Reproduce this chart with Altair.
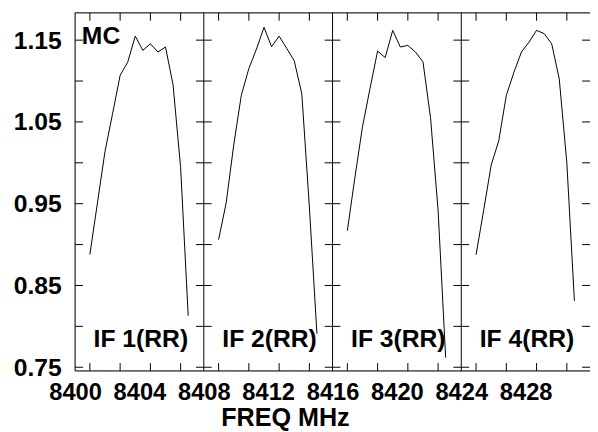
import altair as alt
import pandas as pd

# ---- data ----
IF_NAMES = ["IF 1(RR)", "IF 2(RR)", "IF 3(RR)", "IF 4(RR)"]
IF_START = [8400, 8408, 8416, 8424]          # MHz, start of each IF panel
CHAN_OFFSETS = [0.92, 1.39, 1.86, 2.33, 2.80, 3.27, 3.74,
                4.21, 4.68, 5.15, 5.62, 6.09, 6.56, 7.03]  # MHz within panel
IF1 = [0.888, 0.951, 1.014, 1.060, 1.107, 1.123, 1.155, 1.1375, 1.1456, 1.1355, 1.1416, 1.0953, 0.994, 0.813]
IF2 = [0.906, 0.951, 1.022, 1.0825, 1.1154, 1.1389, 1.1657, 1.142, 1.1548, 1.140, 1.1247, 1.0845, 0.946, 0.791]
IF3 = [0.917, 0.982, 1.044, 1.091, 1.1367, 1.1287, 1.162, 1.1416, 1.1436, 1.1355, 1.1235, 1.0551, 0.9418, 0.7617]
IF4 = [0.8875, 0.9418, 0.9972, 1.027, 1.0825, 1.1106, 1.1355, 1.1476, 1.162, 1.158, 1.1456, 1.1026, 1.000, 0.8312]
X_LABELS = [8400, 8404, 8408, 8412, 8416, 8420, 8424, 8428]
Y_LABELS = [0.75, 0.85, 0.95, 1.05, 1.15]
Y_TICKS = [0.75, 0.80, 0.85, 0.90, 0.95, 1.00, 1.05, 1.10, 1.15]
TICK_CHANNELS = [0, 4, 8, 12]

X_DOM = [8400, 8432]
Y_DOM = [0.7455, 1.1834]
FONT = "Liberation Sans"

rows = []
for name, start, vals in zip(IF_NAMES, IF_START, [IF1, IF2, IF3, IF4]):
    for off, v in zip(CHAN_OFFSETS, vals):
        rows.append({"IF": name, "freq": start + off, "amp": v})
df = pd.DataFrame(rows)

xs = alt.Scale(domain=X_DOM, nice=False, zero=False)
ys = alt.Scale(domain=Y_DOM, nice=False, zero=False)

x_axis = alt.Axis(values=X_LABELS, format="d", title="FREQ MHz", grid=False,
                  domain=False, ticks=False, tickSize=0, labelPadding=10,
                  labelFont=FONT, labelFontSize=24, labelFontWeight="bold",
                  labelColor="black", labelOverlap=False, labelFlush=False,
                  titleFont=FONT, titleFontSize=25.5, titleFontWeight="bold",
                  titleColor="black", titleX=212.7, titleY=55,
                  titleAlign="center", titleBaseline="alphabetic")
y_axis = alt.Axis(values=Y_LABELS, format=".2f", title=None, grid=False,
                  domain=False, ticks=False, tickSize=0, labelPadding=14,
                  labelFont=FONT, labelFontSize=25, labelFontWeight="bold",
                  labelColor="black", labelOverlap=False, labelFlush=False)

lines = alt.Chart(df).mark_line(color="black", strokeWidth=1).encode(
    x=alt.X("freq:Q", scale=xs, axis=x_axis),
    y=alt.Y("amp:Q", scale=ys, axis=y_axis),
    detail="IF:N",
)

# frame: vertical panel boundaries and top/bottom lines
vb = pd.DataFrame({"b": IF_START})
vrules = alt.Chart(vb).mark_rule(color="black", strokeWidth=1).encode(
    x=alt.X("b:Q", scale=xs), y=alt.datum(Y_DOM[0]), y2=alt.datum(Y_DOM[1]))
hb = pd.DataFrame({"y": Y_DOM})
hrules = alt.Chart(hb).mark_rule(color="black", strokeWidth=1).encode(
    y=alt.Y("y:Q", scale=ys), x=alt.datum(X_DOM[0]), x2=alt.datum(X_DOM[1]))

# inward x ticks (top and bottom) at every 4th channel
tk = []
for start in IF_START:
    for c in TICK_CHANNELS:
        f = start + CHAN_OFFSETS[c]
        tk.append({"f": f, "y1": Y_DOM[0], "y2": Y_DOM[0] + 0.0096})
        tk.append({"f": f, "y1": Y_DOM[1] - 0.0096, "y2": Y_DOM[1]})
xticks = alt.Chart(pd.DataFrame(tk)).mark_rule(color="black", strokeWidth=1).encode(
    x=alt.X("f:Q", scale=xs), y=alt.Y("y1:Q", scale=ys), y2="y2:Q")

# inward y ticks at each panel boundary
yt = []
for b in IF_START + [X_DOM[1]]:
    for v in Y_TICKS:
        yt.append({"v": v, "x1": max(b - 0.49, X_DOM[0]), "x2": min(b + 0.49, X_DOM[1])})
yticks = alt.Chart(pd.DataFrame(yt)).mark_rule(color="black", strokeWidth=1).encode(
    y=alt.Y("v:Q", scale=ys), x=alt.X("x1:Q", scale=xs), x2="x2:Q")

# panel labels
lab = pd.DataFrame({"lx": [s + 1.15 for s in IF_START], "t": IF_NAMES})
labels = alt.Chart(lab).mark_text(font=FONT, fontSize=25, fontWeight="bold",
                                  align="left", baseline="alphabetic", color="black").encode(
    x=alt.X("lx:Q", scale=xs), y=alt.datum(0.7746), text="t:N")
mc = alt.Chart(pd.DataFrame({"t": ["MC"]})).mark_text(
    font=FONT, fontSize=25, fontWeight="bold", align="left",
    baseline="alphabetic", color="black").encode(
    x=alt.datum(8400.42), y=alt.datum(1.1448), text="t:N")

chart = alt.layer(lines, vrules, hrules, xticks, yticks, labels, mc).properties(
    width=522, height=363,
    autosize=alt.AutoSizeParams(type="none"),
    padding={"left": 68, "top": 2, "right": 0, "bottom": 58},
).configure_view(stroke=None).configure(background="white")

chart.save("out.html", embed_options={"renderer": "svg", "actions": False})
